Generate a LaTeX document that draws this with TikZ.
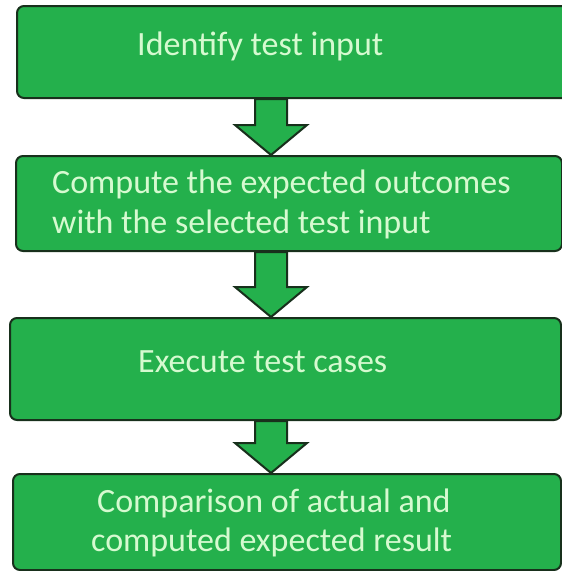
\documentclass[tikz,border=0pt]{standalone}
\usepackage{fontspec}
\setmainfont{Carlito}
\usetikzlibrary{calc}
\definecolor{boxgreen}{RGB}{36,176,76}
\definecolor{edgedark}{RGB}{24,48,28}
\definecolor{labelmint}{RGB}{214,250,208}
\tikzset{
  stepbox/.style={draw=edgedark, line width=2pt, fill=boxgreen, rounded corners=7pt},
  steplabel/.style={inner sep=0pt, anchor=base west, text=labelmint, font=\fontsize{34}{40}\selectfont},
  blockarrow/.style={draw=edgedark, line width=2pt, fill=boxgreen, line join=miter}
}
% Block arrow from the bottom of one step to the top of the next
\newcommand{\flowarrow}[2]{%
  \draw[blockarrow]
    ($(#1.south -| ax)+(-16,0)$) -- ($(#2.north -| ax)+(-16,30)$)
    -- ($(#2.north -| ax)+(-36,30)$) -- (#2.north -| ax)
    -- ($(#2.north -| ax)+(36,30)$) -- ($(#2.north -| ax)+(16,30)$)
    -- ($(#1.south -| ax)+(16,0)$) -- cycle;}
\begin{document}
\begin{tikzpicture}[x=1pt,y=1pt]
  \useasboundingbox (0,0) rectangle (562,-571);
  \fill[white] (0,0) rectangle (562,-571);
  \coordinate (ax) at (271,0);

  % steps
  \node[stepbox, minimum width=554pt, minimum height=92pt, anchor=north west] (b1) at (16,-5) {};
  \node[stepbox, minimum width=546pt, minimum height=95pt, anchor=north west] (b2) at (15,-155) {};
  \node[stepbox, minimum width=551pt, minimum height=102pt, anchor=north west] (b3) at (9,-317) {};
  \node[stepbox, minimum width=548pt, minimum height=96pt, anchor=north west] (b4) at (12,-473) {};

  % labels
  \node[steplabel] (l1) at (137,-55) {Identify test input};
  \node[steplabel] (l2a) at (52,-193) {Compute the expected outcomes};
  \node[steplabel] (l2b) at (52,-233) {with the selected test input};
  \node[steplabel] (l3) at (138,-372) {Execute test cases};
  \node[steplabel] (l4a) at (97,-512) {Comparison of actual and};
  \node[steplabel] (l4b) at (91,-551) {computed expected result};

  % arrows between steps
  \flowarrow{b1}{b2}
  \flowarrow{b2}{b3}
  \flowarrow{b3}{b4}
\end{tikzpicture}
\end{document}
